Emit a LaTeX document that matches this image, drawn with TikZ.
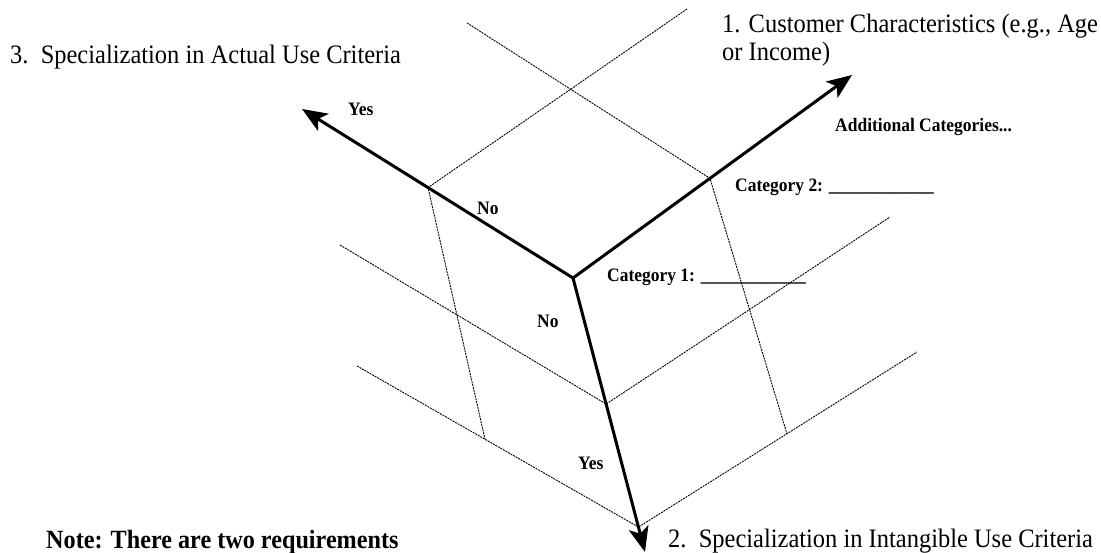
\documentclass[tikz,border=0pt]{standalone}
\usepackage{fontspec}
\setmainfont{Liberation Serif}
\newfontfamily\condfont[FakeStretch=0.92]{Liberation Serif}
\usetikzlibrary{arrows.meta,calc}
\begin{document}
\begin{tikzpicture}[x=1pt,y=-1pt,
  axis/.style={line width=3pt, -{Stealth[length=25pt,width=20pt,inset=6pt]}},
  gridline/.style={line width=0.9pt, dash pattern=on 2pt off 0.9pt},
  big/.style={font=\condfont\fontsize{26.6}{30}\selectfont, anchor=base west, inner sep=0pt},
  notestyle/.style={font=\condfont\bfseries\fontsize{26.3}{30}\selectfont, anchor=base west, inner sep=0pt},
  small/.style={font=\condfont\bfseries\fontsize{19}{22}\selectfont, anchor=base west, inner sep=0pt},
]
\useasboundingbox (0,0) rectangle (1101,553);
% axes
\coordinate (O) at (573,278);
\coordinate (T1) at (852,75);
\coordinate (T3) at (302,109);
\coordinate (T2) at (645,552);
% grid points
\coordinate (a0) at (467,23);
\coordinate (a1) at ($(O)!0.491!(T1)$);
\coordinate (b0) at (687,9);
\coordinate (b1) at ($(O)!0.535!(T3)$);
\coordinate (c0) at (340,245);
\coordinate (c1) at ($(O)!0.46!(T2)$);
\coordinate (c2) at (890,217);
\coordinate (d0) at (357,366);
\coordinate (d1) at ($(O)!0.909!(T2)$);
\coordinate (d2) at (917,352);
\coordinate (a2) at ($(d1)!0.533!(d2)$);
\coordinate (b2) at ($(d0)!0.455!(d1)$);
\draw[gridline] (a0) -- (a1) -- (a2);
\draw[gridline] (b0) -- (b1) -- (b2);
\draw[gridline] (c0) -- (c1) -- (c2);
\draw[gridline] (d0) -- (d1) -- (d2);
\draw[axis] (O) -- (T1);
\draw[axis] (O) -- (T3);
\draw[axis] (O) -- (T2);
% labels
\node[big] (l3) at (10,64) {3.\ \ Specialization in Actual Use Criteria};
\node[big] (l1a) at (722,33) {1. Customer Characteristics (e.g., Age};
\node[big] (l1b) at (722,61) {or Income)};
\node[big] (l2) at (668,547) {2.\ \ Specialization in Intangible Use Criteria};
\node[notestyle] (note) at (46,548) {Note: There are two requirements};
\node[small] (yes3) at (348,116) {Yes};
\node[small] (no3) at (477,215) {No};
\node[small] (no2) at (537,328) {No};
\node[small] (yes2) at (578,469) {Yes};
\node[small] (cat1) at (607,282) {Category 1: \_\_\_\_\_\_\_\_\_\_\_\_};
\node[small] (cat2) at (735,192) {Category 2: \_\_\_\_\_\_\_\_\_\_\_\_};
\node[small] (add) at (835,132) {Additional Categories...};
\end{tikzpicture}
\end{document}
